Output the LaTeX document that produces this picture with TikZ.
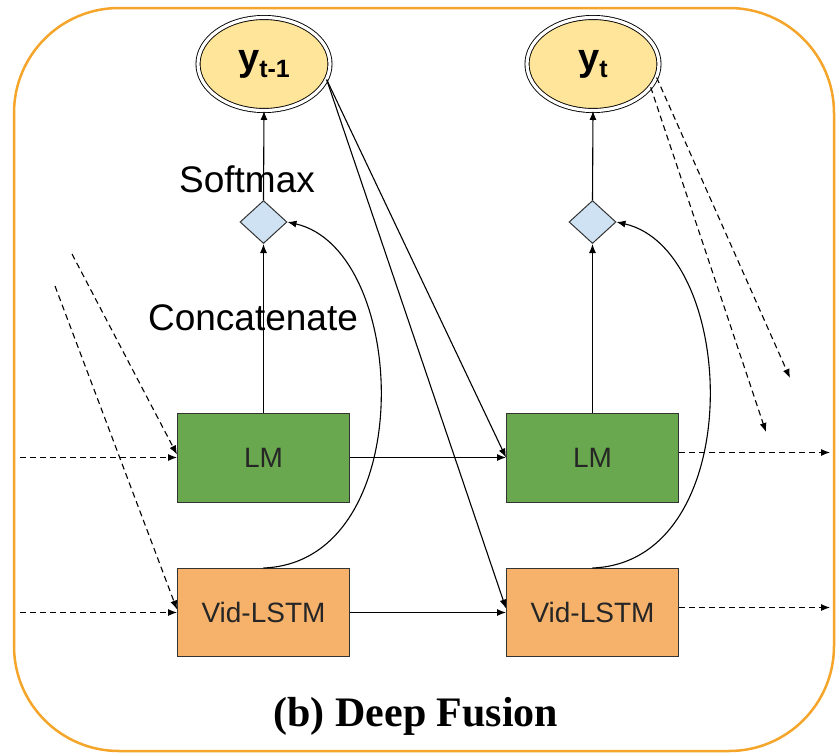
\documentclass[tikz,border=0pt]{standalone}
\usepackage{fontspec}
\setmainfont{Liberation Sans}
\newfontfamily\titlefont{Liberation Serif}
\usetikzlibrary{shapes.geometric,arrows.meta}
\definecolor{frameorange}{HTML}{F4A52A}
\definecolor{lmgreen}{HTML}{6AA84F}
\definecolor{vidorange}{HTML}{F6B26B}
\definecolor{diamblue}{HTML}{CFE2F3}
\definecolor{outgold}{HTML}{FFE599}
\definecolor{edgegray}{HTML}{333333}
\tikzset{
  outnode/.style={ellipse, draw=black, double=white, double distance=3.2pt, line width=0.9pt,
    fill=outgold, minimum width=132pt, minimum height=93pt, inner sep=0pt},
  gate/.style={diamond, draw=edgegray, line width=1pt, fill=diamblue, minimum width=47pt,
    minimum height=43pt, inner sep=0pt},
  lmbox/.style={rectangle, draw=edgegray, line width=1pt, fill=lmgreen, minimum width=172pt,
    minimum height=89pt, font=\fontsize{28}{32}\selectfont, text=black!85},
  vidbox/.style={rectangle, draw=edgegray, line width=1pt, fill=vidorange, minimum width=172pt,
    minimum height=88pt, font=\fontsize{28}{32}\selectfont, text=black!85},
  arr/.style={draw=black, line width=1.1pt, -{Latex[length=9pt,width=7pt]}},
  dasharr/.style={draw=black, line width=1.1pt, dash pattern=on 6pt off 4pt, -{Latex[length=9pt,width=7pt]}},
  lbl/.style={font=\fontsize{37}{40}\selectfont, anchor=base, inner sep=0pt},
}
\newcommand{\ylabel}[1]{{\bfseries\fontsize{38}{40}\selectfont y\raisebox{-7pt}{\fontsize{25}{27}\selectfont #1}}}
\begin{document}
\begin{tikzpicture}[x=1pt,y=-1pt]
\useasboundingbox (0,0) rectangle (836,755);
\draw[frameorange, line width=2.5pt, rounded corners=105pt] (14,8) rectangle (834,751);

% output nodes
\node[outnode] (y1) at (264,64) {\ylabel{t-1}};
\node[outnode] (y2) at (593,64) {\ylabel{t}};

% gates
\node[gate] (g1) at (263.5,222) {};
\node[gate] (g2) at (592.5,222) {};

% boxes
\node[lmbox] (lm1) at (263.5,457.5) {LM};
\node[lmbox] (lm2) at (592.5,457.5) {LM};
\node[vidbox] (v1) at (263.5,612.5) {Vid-LSTM};
\node[vidbox] (v2) at (592.5,612.5) {Vid-LSTM};

% labels
\node[lbl] (softmax) at (247,192) {Softmax};
\node[lbl] (concat) at (253,330) {Concatenate};
\node[font=\titlefont\bfseries\fontsize{42}{45}\selectfont, anchor=base, inner sep=0pt] (title) at (416,726) {(b) Deep Fusion};

% vertical connections
\draw[arr] (lm1.north) -- (g1.south);
\draw[arr] (g1.north) -- (y1.south);
\draw[arr] (lm2.north) -- (g2.south);
\draw[arr] (g2.north) -- (y2.south);

% curves from Vid-LSTM to gates
\draw[arr] (v1.north) .. controls (420,562) and (410,250) .. (g1.east);
\draw[arr] (v2.north) .. controls (749,562) and (739,250) .. (g2.east);

% horizontal recurrences
\draw[arr] (lm1.east) -- (lm2.west);
\draw[arr] (v1.east) -- (v2.west);

% feedback from y_{t-1}
\draw[arr] (y1.-14) -- (lm2.west);
\draw[arr] (y1.-14) -- ([yshift=4pt]v2.west);

% left inputs
\coordinate (inL1) at (20,457.5);
\coordinate (inL2) at (20,612.5);
\coordinate (dA) at (72,254);
\coordinate (dB) at (55,286);
\draw[dasharr] (inL1) -- (lm1.west);
\draw[dasharr] (inL2) -- (v1.west);
\draw[dasharr] (dA) -- ([yshift=3pt]lm1.west);
\draw[dasharr] (dB) -- ([yshift=3pt]v1.west);

% right outputs
\coordinate (outR1) at (830,452.5);
\coordinate (outR2) at (830,607.5);
\coordinate (eA) at (790,378);
\coordinate (eB) at (766,432);
\draw[dasharr] ([yshift=5pt]lm2.east) -- (outR1);
\draw[dasharr] ([yshift=5pt]v2.east) -- (outR2);
\draw[dasharr] (y2.-12) -- (eA);
\draw[dasharr] (y2.-22) -- (eB);
\end{tikzpicture}
\end{document}
